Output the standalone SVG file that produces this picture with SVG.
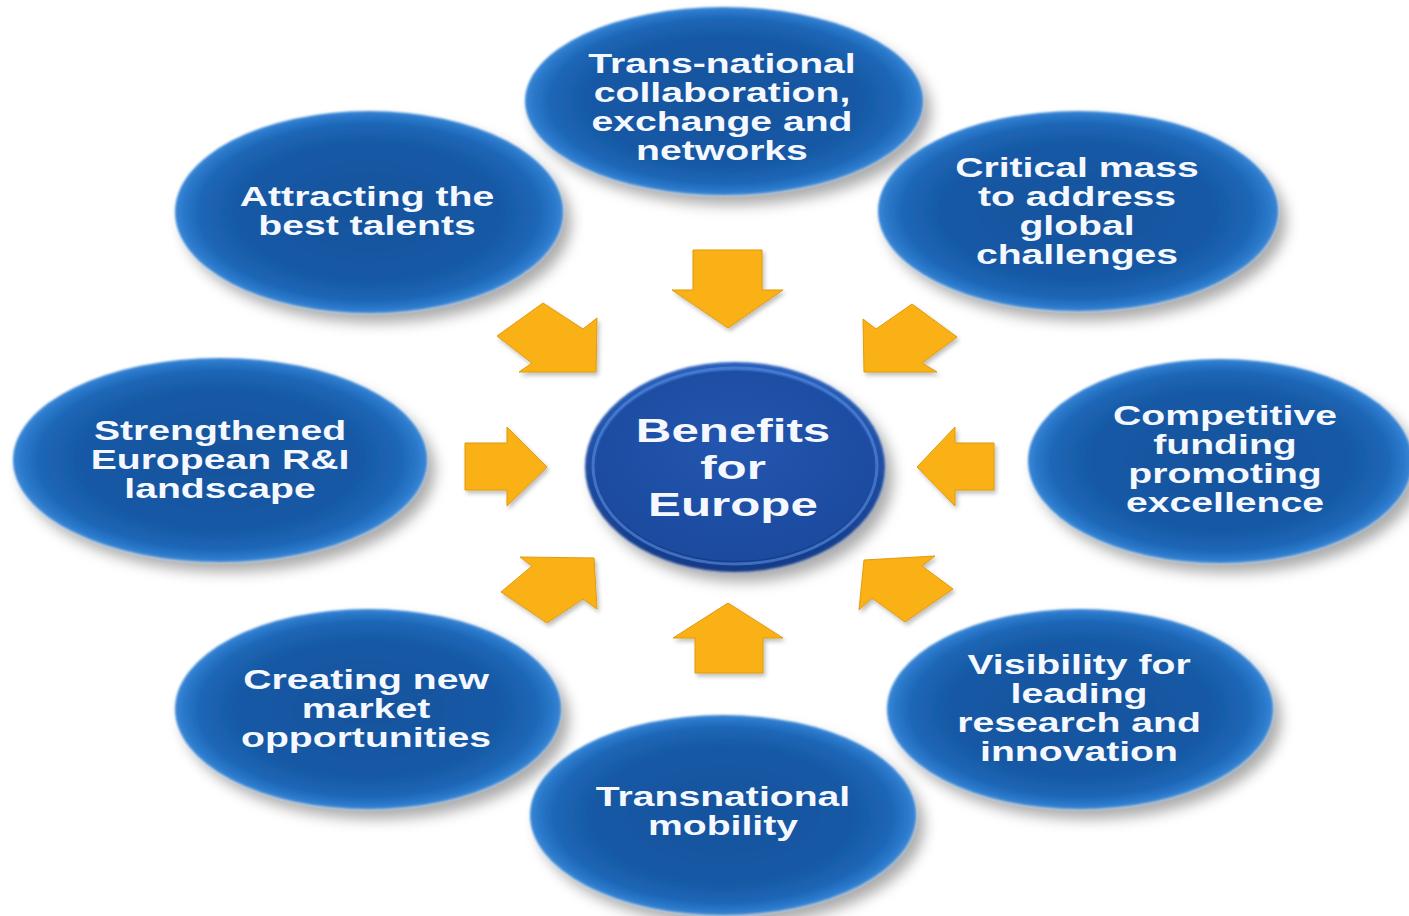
<svg xmlns="http://www.w3.org/2000/svg" width="1409" height="916" viewBox="0 0 1409 916">
<defs>
  <radialGradient id="ellG" cx="50%" cy="50%" r="50%">
    <stop offset="0" stop-color="#14529c"/>
    <stop offset="0.7" stop-color="#175aa6"/>
    <stop offset="0.88" stop-color="#1e67b7"/>
    <stop offset="0.96" stop-color="#2b79cb"/>
    <stop offset="1" stop-color="#3a87d6"/>
  </radialGradient>
  <linearGradient id="rimG" x1="0" y1="0" x2="0" y2="1">
    <stop offset="0" stop-color="#2c62bd"/>
    <stop offset="1" stop-color="#153a86"/>
  </linearGradient>
  <radialGradient id="coreG" cx="50%" cy="40%" r="60%">
    <stop offset="0" stop-color="#2356b0"/>
    <stop offset="1" stop-color="#1b4a9e"/>
  </radialGradient>
  <filter id="sh" x="-20%" y="-20%" width="145%" height="150%">
    <feGaussianBlur in="SourceAlpha" stdDeviation="7" result="b"/>
    <feOffset in="b" dx="8" dy="10" result="o"/>
    <feFlood flood-color="#000" flood-opacity="0.33"/>
    <feComposite in2="o" operator="in" result="s"/>
    <feGaussianBlur in="SourceGraphic" stdDeviation="1.3" result="g"/>
    <feMerge><feMergeNode in="s"/><feMergeNode in="g"/></feMerge>
  </filter>
  <filter id="ash" x="-20%" y="-20%" width="150%" height="150%">
    <feGaussianBlur in="SourceAlpha" stdDeviation="2" result="b"/>
    <feOffset in="b" dx="2" dy="3" result="o"/>
    <feFlood flood-color="#000" flood-opacity="0.25"/>
    <feComposite in2="o" operator="in" result="s"/>
    <feMerge><feMergeNode in="s"/><feMergeNode in="SourceGraphic"/></feMerge>
  </filter>
</defs>
<style>
  .ell { fill: url(#ellG); filter: url(#sh); }
  .lbl { font-family: "Liberation Sans", Arial, sans-serif; font-weight: bold; font-size: 27px; fill: #f5f9ff; text-anchor: middle; }
  .big { font-size: 34px; }
  .arr { fill: #f9b115; stroke: #e29a0c; stroke-width: 1; stroke-linejoin: miter; filter: url(#ash); }
</style>
<rect width="1409" height="916" fill="#ffffff"/>

<g id="connectors">
  <polygon class="arr" points="693,250 762,250 762,290 783,290 728,328 672,290 693,290"/>
  <polygon class="arr" points="695,673 763,673 763,638 783,638 728,603 673,638 695,638"/>
  <polygon class="arr" points="465,443 507,443 507,427 547,467 507,506 507,490 465,490"/>
  <polygon class="arr" points="994,443 955,443 955,427 917,467 955,506 955,490 994,490"/>
  <polygon class="arr" points="597,318 583,329 543,303 497,336 532,363 519,372 596,372"/>
  <polygon class="arr" points="863,319 876,329 912,304 957,337 922,363 937,372 864,372"/>
  <polygon class="arr" points="520,557 532,566 501,592 547,623 583,599 597,609 594,558"/>
  <polygon class="arr" points="935,556 922,566 953,589 905,622 872,598 859,610 864,560"/>
</g>

<g id="node-center">
  <ellipse cx="735" cy="467" rx="150" ry="105" fill="url(#rimG)" filter="url(#sh)"/>
  <ellipse cx="735" cy="466" rx="142" ry="98" fill="none" stroke="#4f84d8" stroke-width="3" opacity="0.7"/>
  <ellipse cx="735" cy="466" rx="139" ry="95" fill="url(#coreG)"/>
  <g transform="translate(733 0) scale(1.45 1)">
    <text class="lbl big" x="0" y="442">Benefits</text>
    <text class="lbl big" x="0" y="479">for</text>
    <text class="lbl big" x="0" y="516">Europe</text>
  </g>
</g>

<g id="node-transnational-collaboration">
  <ellipse class="ell" cx="724" cy="101" rx="199" ry="94"/>
  <g transform="translate(722 0) scale(1.45 1)">
    <text class="lbl" x="0" y="73">Trans-national</text>
    <text class="lbl" x="0" y="102">collaboration,</text>
    <text class="lbl" x="0" y="131">exchange and</text>
    <text class="lbl" x="0" y="160">networks</text>
  </g>
</g>

<g id="node-attracting">
  <ellipse class="ell" cx="369" cy="212" rx="194" ry="101"/>
  <g transform="translate(367 0) scale(1.45 1)">
    <text class="lbl" x="0" y="206">Attracting the</text>
    <text class="lbl" x="0" y="235">best talents</text>
  </g>
</g>

<g id="node-critical-mass">
  <ellipse class="ell" cx="1078" cy="211" rx="200" ry="100"/>
  <g transform="translate(1077 0) scale(1.45 1)">
    <text class="lbl" x="0" y="177">Critical mass</text>
    <text class="lbl" x="0" y="206">to address</text>
    <text class="lbl" x="0" y="235">global</text>
    <text class="lbl" x="0" y="264">challenges</text>
  </g>
</g>

<g id="node-strengthened">
  <ellipse class="ell" cx="220" cy="460" rx="207" ry="102"/>
  <g transform="translate(220 0) scale(1.45 1)">
    <text class="lbl" x="0" y="440">Strengthened</text>
    <text class="lbl" x="0" y="469">European R&amp;I</text>
    <text class="lbl" x="0" y="498">landscape</text>
  </g>
</g>

<g id="node-competitive">
  <ellipse class="ell" cx="1220" cy="461" rx="192" ry="102"/>
  <g transform="translate(1225 0) scale(1.45 1)">
    <text class="lbl" x="0" y="425">Competitive</text>
    <text class="lbl" x="0" y="454">funding</text>
    <text class="lbl" x="0" y="483">promoting</text>
    <text class="lbl" x="0" y="512">excellence</text>
  </g>
</g>

<g id="node-creating">
  <ellipse class="ell" cx="368" cy="709" rx="193" ry="100"/>
  <g transform="translate(366 0) scale(1.45 1)">
    <text class="lbl" x="0" y="689">Creating new</text>
    <text class="lbl" x="0" y="718">market</text>
    <text class="lbl" x="0" y="747">opportunities</text>
  </g>
</g>

<g id="node-visibility">
  <ellipse class="ell" cx="1080" cy="709" rx="193" ry="100"/>
  <g transform="translate(1079 0) scale(1.45 1)">
    <text class="lbl" x="0" y="674">Visibility for</text>
    <text class="lbl" x="0" y="703">leading</text>
    <text class="lbl" x="0" y="732">research and</text>
    <text class="lbl" x="0" y="761">innovation</text>
  </g>
</g>

<g id="node-mobility">
  <ellipse class="ell" cx="723" cy="815" rx="193" ry="100"/>
  <g transform="translate(723 0) scale(1.45 1)">
    <text class="lbl" x="0" y="806">Transnational</text>
    <text class="lbl" x="0" y="835">mobility</text>
  </g>
</g>
</svg>
